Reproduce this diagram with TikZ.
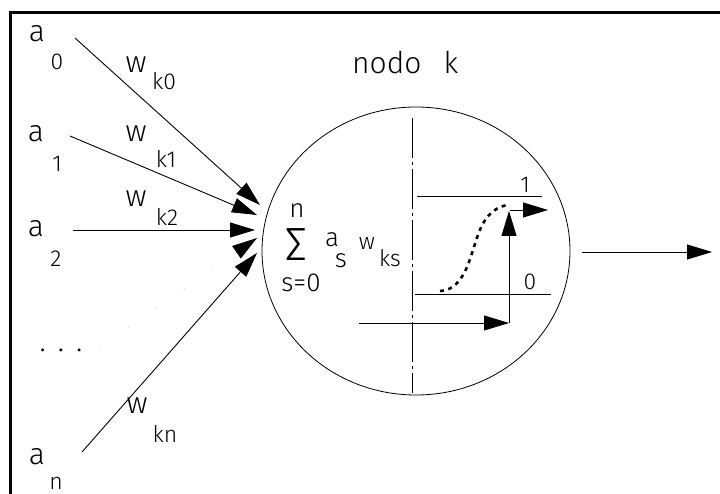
\documentclass[tikz,border=0pt]{standalone}
\usepackage{fontspec}
\setmainfont{Fira Sans Light}
\usetikzlibrary{arrows.meta,shapes.geometric,calc}
\begin{document}
\begin{tikzpicture}[x=1pt,y=-1pt,
  big/.style={inner sep=0pt,anchor=base,font=\fontsize{30}{30}\selectfont},
  small/.style={inner sep=0pt,anchor=base,font=\fontsize{23}{23}\selectfont},
  mid/.style={inner sep=0pt,anchor=base,font=\fontsize{26}{26}\selectfont},
  conn/.style={line width=0.9pt,-{Triangle[length=25pt,width=15pt]}},
  thin/.style={line width=0.8pt}]
\useasboundingbox (0,0) rectangle (720,494);
% frame
\draw[line width=3pt] (720,12.5) -- (10.7,12.5) -- (10.7,494);
% input labels
\node[big]   (a0)  at (37,42)  {a};
\node[small] (i0)  at (57,70)  {0};
\node[big]   (w0)  at (136,73) {w};
\node[small] (k0)  at (164,90) {k0};
\node[big]   (a1)  at (36,142) {a};
\node[small] (i1)  at (57,172) {1};
\node[big]   (w1)  at (136,142) {w};
\node[small] (k1)  at (166,168) {k1};
\node[big]   (a2)  at (36,237) {a};
\node[small] (i2)  at (56,267) {2};
\node[big]   (w2)  at (136,207) {w};
\node[small] (k2)  at (167,226) {k2};
\node[big]   (dots) at (61,351) {.\hspace{12pt}.\hspace{12pt}.};
\node[big]   (wn)  at (137,413) {w};
\node[small] (kn)  at (165,442) {kn};
\node[big]   (an)  at (37,464) {a};
\node[small] (iN)  at (56,489) {n};
% connector ends
\coordinate (t0) at (75,38);   \coordinate (h0) at (260,205);
\coordinate (t1) at (70,136);  \coordinate (h1) at (257,215);
\coordinate (t2) at (73,230);  \coordinate (h2) at (255,230);
\coordinate (t3) at (100,347); \coordinate (h3) at (257,238);
\coordinate (tn) at (82,452);  \coordinate (hn) at (257,253);
\draw[conn] (t0) -- (h0);
\draw[conn] (t1) -- (h1);
\draw[conn] (t2) -- (h2);
\draw[line width=0.8pt,gray!35,dash pattern=on 1pt off 33pt] (t3) -- ($(h3)!26pt!(t3)$);
\draw[conn] ($(h3)!25pt!(t3)$) -- (h3);
\draw[conn] (tn) -- (hn);
% node circle
\node[draw,thin,ellipse,minimum width=308pt,minimum height=288pt,inner sep=0pt] (nodo) at (416,251) {};
\node[inner sep=0pt,anchor=base west,font=\fontsize{30}{30}\selectfont] (title) at (352,74) {nodo\hspace{22pt}k};
% sum
\node[mid] (sn) at (297,218) {n};
\node[inner sep=0pt,anchor=base,font=\fontsize{48}{48}\selectfont] (sig) at (296,261) {∑};
\node[mid] (sa) at (332,247) {a};
\node[mid] (ss) at (341,268) {s};
\node[inner sep=0pt,anchor=base,font=\fontsize{23}{23}\selectfont] (sw) at (367,250) {w};
\node[small] (sks) at (390,267) {ks};
\node[mid] (s0) at (301,292) {s=0};
% axis
\coordinate (ax1) at (412,118); \coordinate (ax2) at (412,393);
\draw[thin,dash pattern=on 40pt off 4pt on 3pt off 4pt] (ax1) -- (ax2);
% levels
\coordinate (l1a) at (417,196); \coordinate (l1b) at (542,196);
\coordinate (l0a) at (415,294); \coordinate (l0b) at (551,294);
\draw[thin] (l1a) -- (l1b);
\draw[thin] (l0a) -- (l0b);
\node[small] (one) at (525,193) {1};
\node[small] (zero) at (530,290) {0};
% sigmoid
\draw[line width=2.6pt,dash pattern=on 4pt off 4.5pt]
  (440,291) .. controls (466,290) and (471,252) .. (478,235)
  .. controls (485,214) and (498,205) .. (510,205);
% inner arrows
\coordinate (inA) at (359,323); \coordinate (inB) at (509,323);
\coordinate (upB) at (509,211);
\coordinate (outA) at (510,210); \coordinate (outB) at (548,210);
\draw[conn] (inA) -- (inB);
\draw[conn] (inB) -- (upB);
\draw[conn] (outA) -- (outB);
% output
\coordinate (o1) at (582,252); \coordinate (o2) at (712,252);
\draw[conn] (o1) -- (o2);
\end{tikzpicture}
\end{document}
